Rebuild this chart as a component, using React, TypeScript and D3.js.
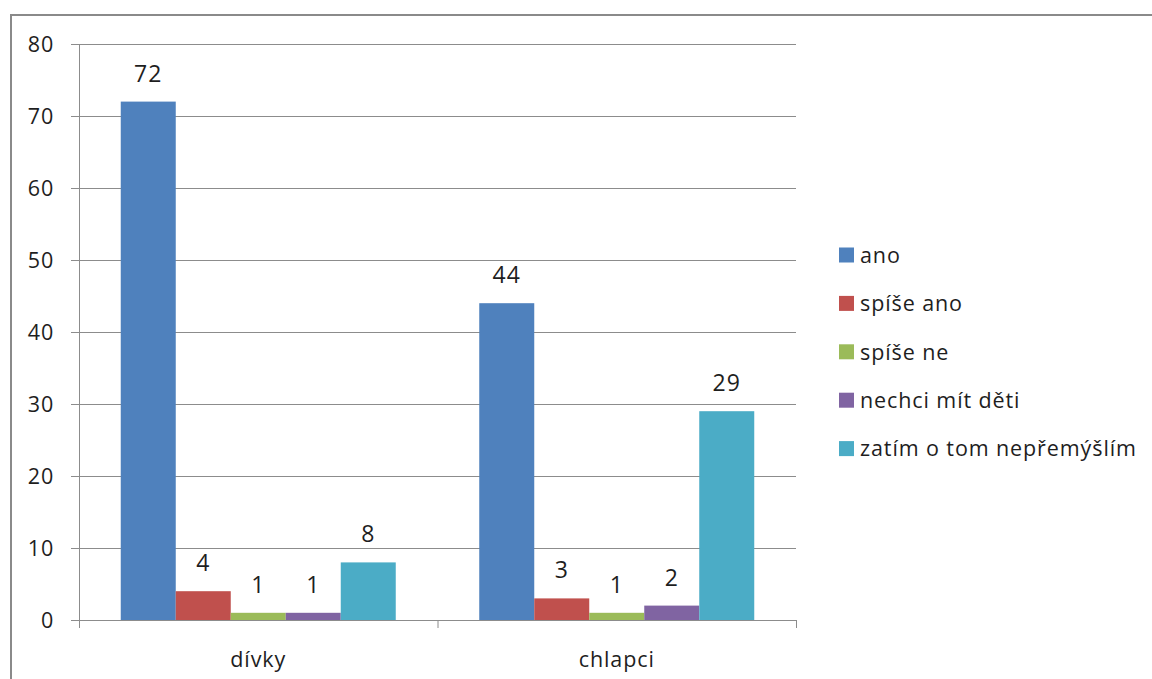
import React from "react";
import * as d3 from "d3";

const categories = ["dívky", "chlapci"];
const seriesNames = ["ano", "spíše ano", "spíše ne", "nechci mít děti", "zatím o tom nepřemýšlím"];
const seriesColors = ["#4F81BD", "#C0504D", "#9BBB59", "#8064A2", "#4BACC6"];
const valuesDivky = [72, 4, 1, 1, 8];
const valuesChlapci = [44, 3, 1, 2, 29];
const yTicks = [0, 10, 20, 30, 40, 50, 60, 70, 80];

const W = 1152;
const H = 679;
const plot = { left: 79, right: 796, top: 44, bottom: 620 };
const FONT = "'Open Sans', Lato, sans-serif";
const FS = 21.5;
const LS = 0.9;
const TXT = "#1e1e1e";

export default function App() {
  const values = [valuesDivky, valuesChlapci];
  const y = d3.scaleLinear().domain([0, 80]).range([plot.bottom, plot.top]);
  const x0 = d3.scaleBand().domain(categories).range([plot.left, plot.right]).paddingInner(0).paddingOuter(0);
  const groupW = 275;
  const x1 = d3
    .scaleBand()
    .domain(seriesNames)
    .range([0, groupW])
    .padding(0);
  const bandW = x0.bandwidth();
  const offset = (bandW - groupW) / 2;

  return (
    <svg
      width={W}
      height={H}
      style={{ position: "fixed", left: 0, top: 0, background: "#fff" }}
      fontFamily={FONT}
    >
      <rect x={0} y={0} width={W} height={H} fill="#fff" />
      {/* chart frame */}
      <path d={`M11,${H + 5} L11,15 L${W + 5},15`} fill="none" stroke="#8a8a8a" strokeWidth={2} />

      {/* gridlines */}
      {yTicks.map((t) => (
        <g key={t}>
          <line
            x1={plot.left - 8}
            x2={t === 0 ? plot.left : plot.right}
            y1={Math.round(y(t)) + 0.5}
            y2={Math.round(y(t)) + 0.5}
            stroke="#8c8c8c"
            strokeWidth={1}
          />
          <text
            x={54}
            y={y(t)}
            dy="0.36em"
            textAnchor="end"
            fontSize={FS}
            letterSpacing={0.8}
            fill={TXT}
          >
            {t}
          </text>
        </g>
      ))}

      {/* bars */}
      {categories.map((c, ci) =>
        seriesNames.map((s, si) => {
          const v = values[ci][si];
          const bx = (x0(c) as number) + offset + (x1(s) as number);
          const bw = x1.bandwidth();
          return (
            <g key={c + s}>
              <rect x={bx} y={y(v)} width={bw} height={plot.bottom - y(v)} fill={seriesColors[si]} />
              <text
                x={bx + bw / 2}
                y={y(v) - 20}
                textAnchor="middle"
                fontSize={23}
                letterSpacing={1}
                fill={TXT}
              >
                {v}
              </text>
            </g>
          );
        })
      )}

      {/* axes */}
      <line x1={plot.left + 0.5} x2={plot.left + 0.5} y1={plot.top} y2={plot.bottom + 8} stroke="#8c8c8c" />
      <line x1={plot.left} x2={plot.right} y1={plot.bottom + 0.5} y2={plot.bottom + 0.5} stroke="#8c8c8c" />
      {[...categories.map((c) => x0(c) as number), plot.right].map((xv, i) => (
        <line key={i} x1={xv + 0.5} x2={xv + 0.5} y1={plot.bottom} y2={plot.bottom + 8} stroke="#8c8c8c" />
      ))}
      {categories.map((c) => (
        <text
          key={c}
          x={(x0(c) as number) + bandW / 2}
          y={667}
          textAnchor="middle"
          fontSize={FS}
          letterSpacing={LS}
          fill={TXT}
        >
          {c}
        </text>
      ))}

      {/* legend */}
      {seriesNames.map((s, i) => {
        const cy = 255 + i * 48.4;
        return (
          <g key={s}>
            <rect x={839} y={cy - 7.5} width={15} height={15} fill={seriesColors[i]} />
            <text x={860} y={cy} dy="0.36em" fontSize={FS} letterSpacing={LS} fill={TXT}>
              {s}
            </text>
          </g>
        );
      })}
    </svg>
  );
}
